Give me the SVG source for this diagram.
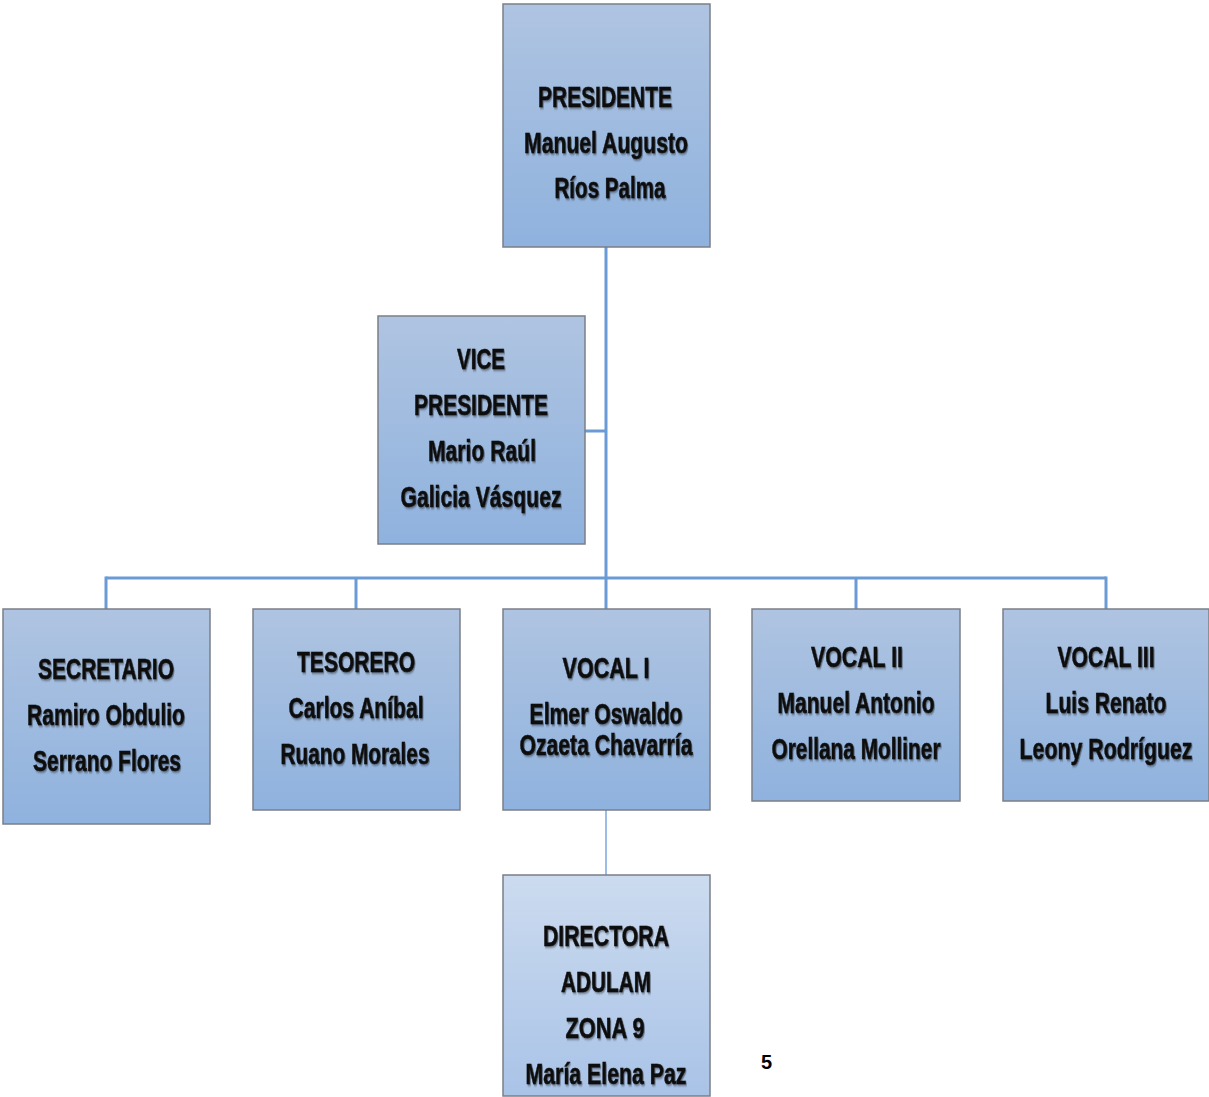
<svg xmlns="http://www.w3.org/2000/svg" width="1209" height="1097" viewBox="0 0 1209 1097">
<defs>
<linearGradient id="g1" x1="0" y1="0" x2="0" y2="1">
<stop offset="0" stop-color="#afc4e1"/>
<stop offset="1" stop-color="#8fb2de"/>
</linearGradient>
<linearGradient id="g2" x1="0" y1="0" x2="0" y2="1">
<stop offset="0" stop-color="#ccdbef"/>
<stop offset="1" stop-color="#a9c3e7"/>
</linearGradient>
<filter id="sh" x="-3%" y="-15%" width="106%" height="130%">
<feDropShadow dx="1.3" dy="1.5" stdDeviation="1" flood-color="#000" flood-opacity="0.45"/>
</filter>
</defs>
<style>
.box{fill:url(#g1);stroke:#7b7f86;stroke-width:1.5}
.box2{fill:url(#g2);stroke:#7b7f86;stroke-width:1.5}
.t{font-family:"Liberation Sans",Arial,sans-serif;font-weight:bold;font-size:29px;fill:#111;stroke:#111;stroke-width:0.55;text-anchor:middle;filter:url(#sh)}
.c{stroke:#6a9bd6;stroke-width:3;fill:none}
.c2{stroke:#9cbde6;stroke-width:2;fill:none}
.pg{font-family:"Liberation Sans",Arial,sans-serif;font-weight:bold;font-size:20px;fill:#000}
</style>
<g id="connectors">
<line class="c" x1="606" y1="247" x2="606" y2="609"/>
<line class="c" x1="585" y1="431" x2="606" y2="431"/>
<line class="c" x1="106" y1="578" x2="1106" y2="578"/>
<line class="c" x1="106" y1="576.5" x2="106" y2="609"/>
<line class="c" x1="356" y1="578" x2="356" y2="609"/>
<line class="c" x1="856" y1="578" x2="856" y2="609"/>
<line class="c" x1="1106" y1="576.5" x2="1106" y2="609"/>
<line class="c2" x1="606" y1="810" x2="606" y2="875"/>
</g>
<g id="presidente">
<rect class="box" x="503" y="4" width="207" height="243"/>
<text class="t" transform="translate(605,107) scale(0.72,1)" textLength="186.1" lengthAdjust="spacingAndGlyphs">PRESIDENTE</text>
<text class="t" transform="translate(606,153) scale(0.72,1)" textLength="227.8" lengthAdjust="spacingAndGlyphs">Manuel Augusto</text>
<text class="t" transform="translate(610,198) scale(0.72,1)" textLength="154.2" lengthAdjust="spacingAndGlyphs">Ríos Palma</text>
</g>
<g id="vicepresidente">
<rect class="box" x="378" y="316" width="207" height="228"/>
<text class="t" transform="translate(481,369) scale(0.72,1)" textLength="66.7" lengthAdjust="spacingAndGlyphs">VICE</text>
<text class="t" transform="translate(481,415) scale(0.72,1)" textLength="186.1" lengthAdjust="spacingAndGlyphs">PRESIDENTE</text>
<text class="t" transform="translate(482,461) scale(0.72,1)" textLength="150" lengthAdjust="spacingAndGlyphs">Mario Raúl</text>
<text class="t" transform="translate(481,507) scale(0.72,1)" textLength="223.6" lengthAdjust="spacingAndGlyphs">Galicia Vásquez</text>
</g>
<g id="secretario">
<rect class="box" x="3" y="609" width="207" height="215"/>
<text class="t" transform="translate(106,679) scale(0.72,1)" textLength="188.9" lengthAdjust="spacingAndGlyphs">SECRETARIO</text>
<text class="t" transform="translate(106,725) scale(0.72,1)" textLength="219.4" lengthAdjust="spacingAndGlyphs">Ramiro Obdulio</text>
<text class="t" transform="translate(107,771) scale(0.72,1)" textLength="205.6" lengthAdjust="spacingAndGlyphs">Serrano Flores</text>
</g>
<g id="tesorero">
<rect class="box" x="253" y="609" width="207" height="201"/>
<text class="t" transform="translate(356,672) scale(0.72,1)" textLength="163.9" lengthAdjust="spacingAndGlyphs">TESORERO</text>
<text class="t" transform="translate(356,718) scale(0.72,1)" textLength="187.5" lengthAdjust="spacingAndGlyphs">Carlos Aníbal</text>
<text class="t" transform="translate(355,764) scale(0.72,1)" textLength="206.9" lengthAdjust="spacingAndGlyphs">Ruano Morales</text>
</g>
<g id="vocal1">
<rect class="box" x="503" y="609" width="207" height="201"/>
<text class="t" transform="translate(606,678) scale(0.72,1)" textLength="120.8" lengthAdjust="spacingAndGlyphs">VOCAL I</text>
<text class="t" transform="translate(606,724) scale(0.72,1)" textLength="212.5" lengthAdjust="spacingAndGlyphs">Elmer Oswaldo</text>
<text class="t" transform="translate(606,755) scale(0.72,1)" textLength="240.3" lengthAdjust="spacingAndGlyphs">Ozaeta Chavarría</text>
</g>
<g id="vocal2">
<rect class="box" x="752" y="609" width="208" height="192"/>
<text class="t" transform="translate(857,667) scale(0.72,1)" textLength="127.8" lengthAdjust="spacingAndGlyphs">VOCAL II</text>
<text class="t" transform="translate(856,713) scale(0.72,1)" textLength="218.1" lengthAdjust="spacingAndGlyphs">Manuel Antonio</text>
<text class="t" transform="translate(856,759) scale(0.72,1)" textLength="234.7" lengthAdjust="spacingAndGlyphs">Orellana Molliner</text>
</g>
<g id="vocal3">
<rect class="box" x="1003" y="609" width="206" height="192"/>
<text class="t" transform="translate(1106,667) scale(0.72,1)" textLength="134.7" lengthAdjust="spacingAndGlyphs">VOCAL III</text>
<text class="t" transform="translate(1106,713) scale(0.72,1)" textLength="168.1" lengthAdjust="spacingAndGlyphs">Luis Renato</text>
<text class="t" transform="translate(1106,759) scale(0.72,1)" textLength="240.3" lengthAdjust="spacingAndGlyphs">Leony Rodríguez</text>
</g>
<g id="directora">
<rect class="box2" x="503" y="875" width="207" height="221"/>
<text class="t" transform="translate(606,946) scale(0.72,1)" textLength="175" lengthAdjust="spacingAndGlyphs">DIRECTORA</text>
<text class="t" transform="translate(606,992) scale(0.72,1)" textLength="125" lengthAdjust="spacingAndGlyphs">ADULAM</text>
<text class="t" transform="translate(605,1038) scale(0.72,1)" textLength="109.7" lengthAdjust="spacingAndGlyphs">ZONA 9</text>
<text class="t" transform="translate(606,1084) scale(0.72,1)" textLength="223.6" lengthAdjust="spacingAndGlyphs">María Elena Paz</text>
</g>
<text class="pg" x="761" y="1069">5</text>
</svg>
